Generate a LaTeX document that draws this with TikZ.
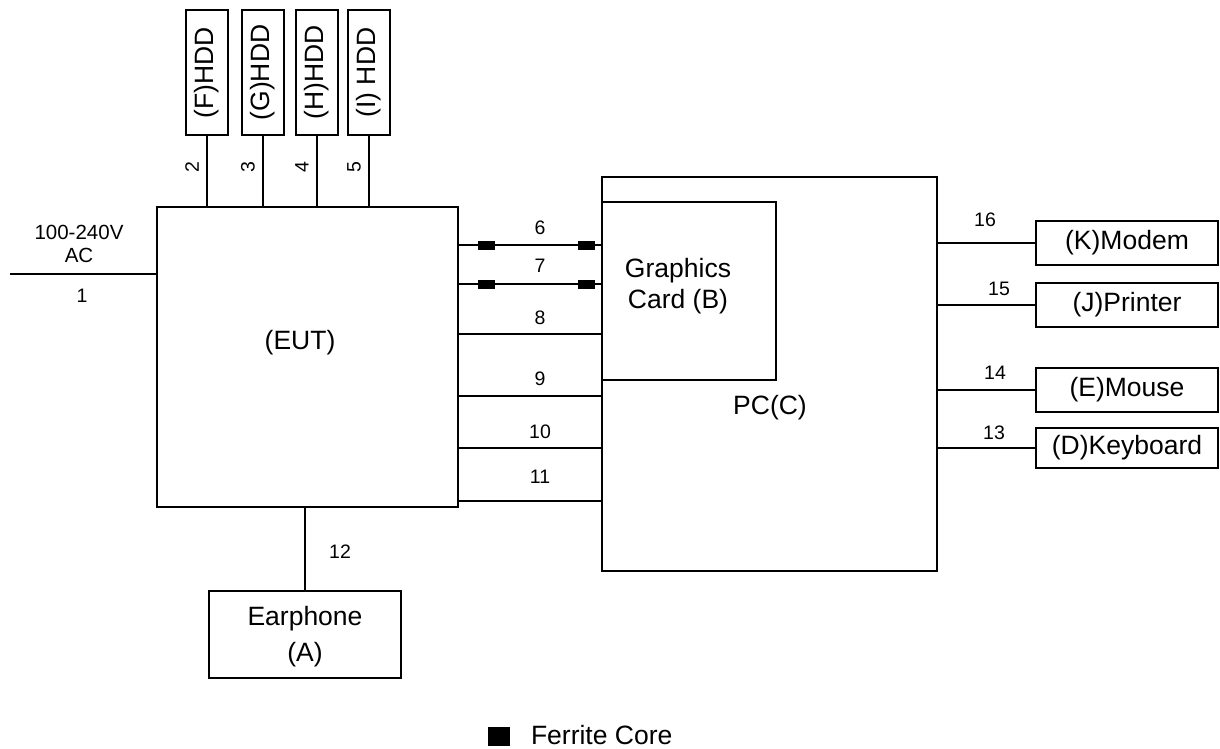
\documentclass[tikz,border=0pt]{standalone}
\usepackage{fontspec}
\setmainfont{Liberation Sans}
\begin{document}
\begin{tikzpicture}[x=1pt,y=-1pt,
  every node/.style={inner sep=0pt, outer sep=0pt},
  box/.style={draw, line width=2pt, rectangle},
  wire/.style={line width=2pt},
  big/.style={font=\fontsize{26.5}{31}\selectfont, align=center},
  num/.style={font=\fontsize{19.5}{22}\selectfont},
  ferrite/.style={fill=black, draw=none, minimum width=17pt, minimum height=9pt}
]
\useasboundingbox (0,0) rectangle (1220,749);

% HDD boxes
\node[box, minimum width=42pt, minimum height=125pt] (F) at (207,72.5) {};
\node[box, minimum width=42pt, minimum height=125pt] (G) at (263,72.5) {};
\node[box, minimum width=42pt, minimum height=125pt] (H) at (317,72.5) {};
\node[box, minimum width=42pt, minimum height=125pt] (I) at (369,72.5) {};
\node[big, rotate=90] (Ft) at (F.center) {(F)HDD};
\node[big, rotate=90] (Gt) at (G.center) {(G)HDD};
\node[big, rotate=90] (Ht) at (H.center) {(H)HDD};
\node[big, rotate=90] (It) at (I.center) {(I) HDD};

% EUT
\node[box, minimum width=301pt, minimum height=300pt] (eut) at (307.5,357) {};
\node[big] (eutt) at (300,343) {(EUT)};

% PC and graphics card
\node[box, minimum width=335pt, minimum height=394pt] (pc) at (769.5,374) {};
\node[box, minimum width=174pt, minimum height=178pt] (gc) at (689,291) {};
\node[big] (gct) at (678,286) {Graphics\\Card (B)};
\node[big] (pct) at (770,408) {PC(C)};

% peripherals
\node[box, minimum width=182pt, minimum height=44pt] (K) at (1127,243) {};
\node[big] at (K.center) {(K)Modem};
\node[box, minimum width=182pt, minimum height=44pt] (J) at (1127,305) {};
\node[big] at (J.center) {(J)Printer};
\node[box, minimum width=182pt, minimum height=44pt] (E) at (1127,390) {};
\node[big] at (E.center) {(E)Mouse};
\node[box, minimum width=182pt, minimum height=40pt] (D) at (1127,448) {};
\node[big] at (D.center) {(D)Keyboard};

% Earphone
\node[box, minimum width=192pt, minimum height=87pt] (A) at (305,634.5) {};
\node[big, font=\fontsize{26.5}{36}\selectfont] (At) at (305,637) {Earphone\\(A)};

% power input
\coordinate (acin) at (10,274);
\draw[wire] (acin) -- (eut.west |- acin);
\node[num, font=\fontsize{20.5}{23}\selectfont, align=center] (acl) at (79,244) {100-240V\\AC};
\node[num] (n1) at (82,296) {1};

% HDD cables
\draw[wire] (F.south) -- (F.south |- eut.north);
\draw[wire] (G.south) -- (G.south |- eut.north);
\draw[wire] (H.south) -- (H.south |- eut.north);
\draw[wire] (I.south) -- (I.south |- eut.north);
\node[num, rotate=90] (n2) at (192,167) {2};
\node[num, rotate=90] (n3) at (248,167) {3};
\node[num, rotate=90] (n4) at (302,167) {4};
\node[num, rotate=90] (n5) at (354,167) {5};

% EUT to PC cables
\foreach \y/\n/\ly in {245/6/228, 284/7/266, 334/8/318, 396/9/379, 448/10/432, 501/11/477}{
  \draw[wire] (eut.east |- 0,\y) -- (pc.west |- 0,\y);
  \node[num] at (540,\ly) {\n};
}
\foreach \y in {245,284}{
  \node[ferrite] at (486.5,\y) {};
  \node[ferrite] at (586.5,\y) {};
}

% PC to peripherals
\draw[wire] (pc.east |- K.west) -- (K.west);
\draw[wire] (pc.east |- J.west) -- (J.west);
\draw[wire] (pc.east |- E.west) -- (E.west);
\draw[wire] (pc.east |- D.west) -- (D.west);
\node[num] (n16) at (985,220) {16};
\node[num] (n15) at (999,289) {15};
\node[num] (n14) at (995,373) {14};
\node[num] (n13) at (994,433) {13};

% earphone cable
\draw[wire] (A.north) -- (A.north |- eut.south);
\node[num] (n12) at (340,552) {12};

% legend
\node[fill=black, minimum width=22pt, minimum height=19pt] (leg) at (499,736.5) {};
\node[big, anchor=west] (legt) at (531,735) {Ferrite Core};
\end{tikzpicture}
\end{document}
